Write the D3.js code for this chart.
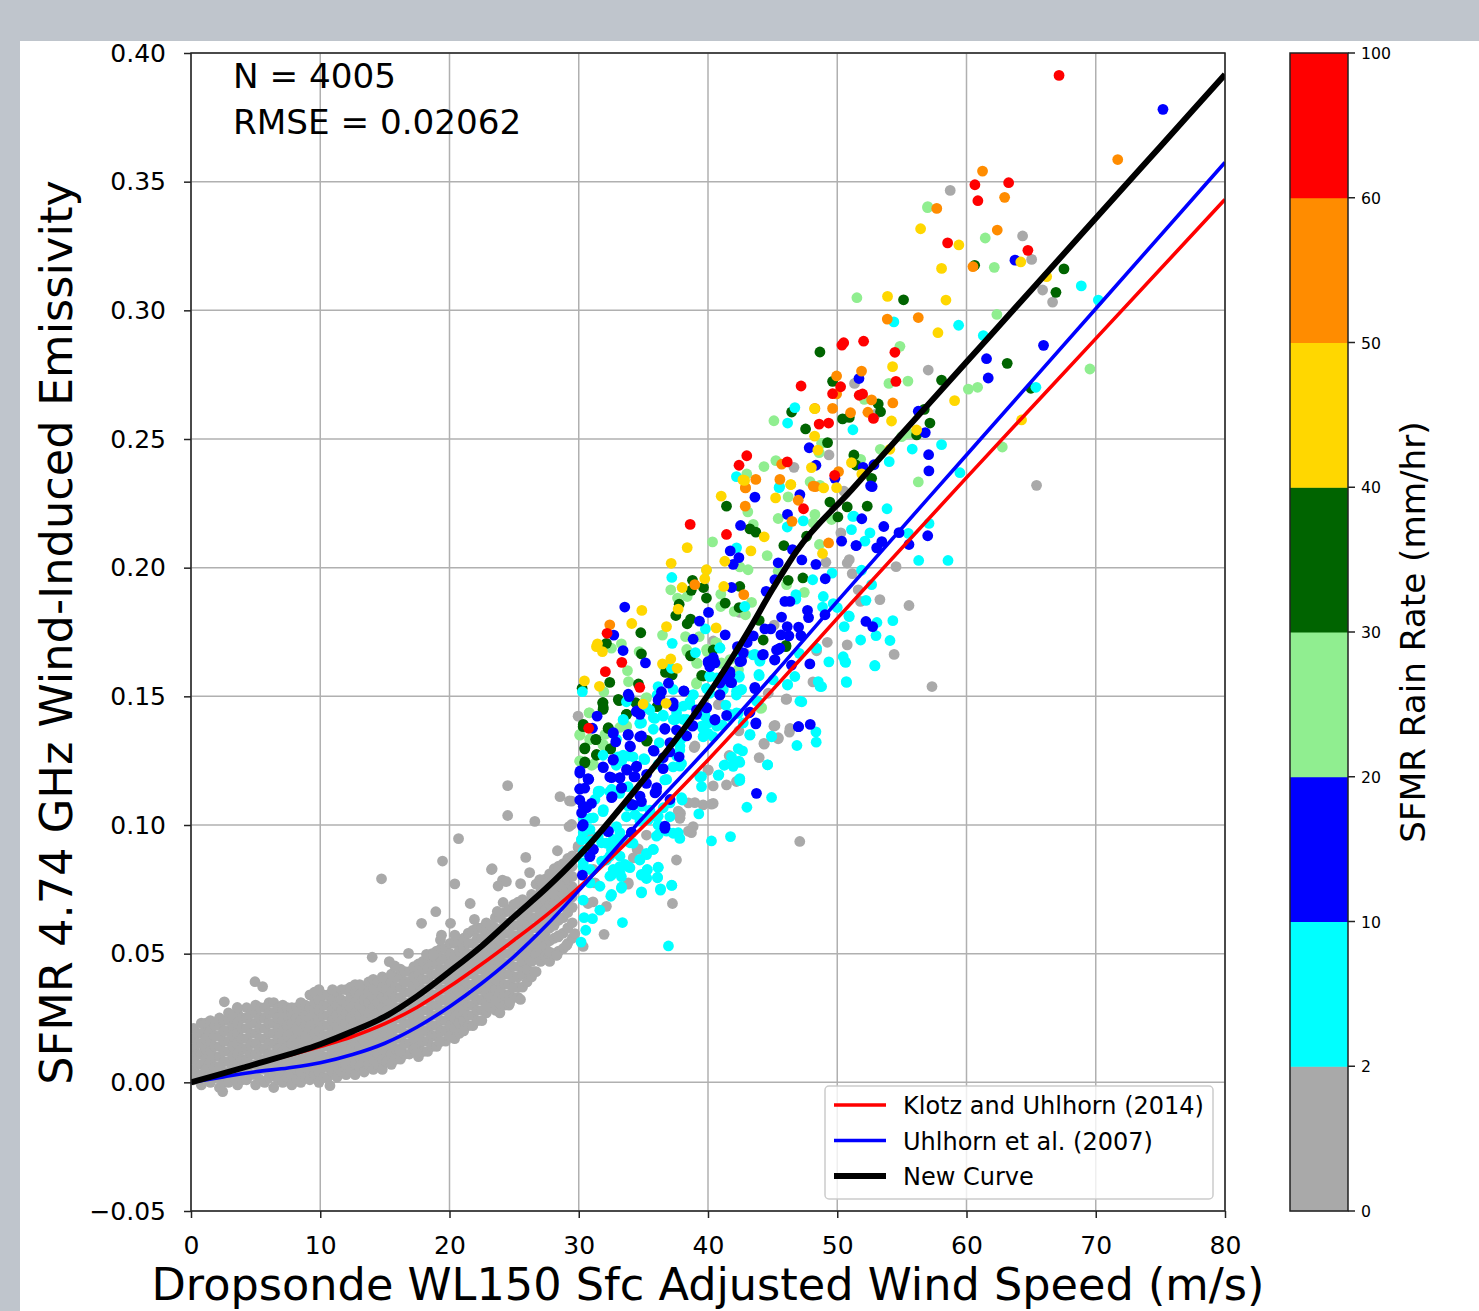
<!DOCTYPE html>
<html>
<head>
<meta charset="utf-8">
<script src="https://cdn.jsdelivr.net/npm/d3@7"></script>
<style>
  body { margin: 0; background: #fff; }
  svg { display: block; font-family: "DejaVu Sans", sans-serif; }
</style>
</head>
<body>
<svg width="1479" height="1311"></svg>
<script>
// dense gray cloud, one row per wind speed column: [x, y, y, y ...]
const grayColumns = [
  [0.2, .001, .005, .009, .013, .017, .021],
  [0.5, .003, .007, .011, .015, .019],
  [0.8, -.001, .003, .007, .011, .015, .019, .023],
  [1.15, .001, .005, .009, .013, .017, .021, .023],
  [1.5, .000, .004, .008, .012, .016, .020, .024],
  [1.85, .002, .006, .010, .014, .018, .022],
  [2.2, -.002, .002, .006, .010, .014, .018, .022, .025],
  [2.55, .000, .004, .008, .012, .016, .020, .024],
  [2.9, .000, .004, .008, .012, .016, .020, .024, .027],
  [3.25, .002, .006, .010, .014, .018, .022, .025],
  [3.6, -.001, .003, .007, .011, .015, .019, .023, .027],
  [3.95, .001, .005, .009, .013, .017, .021, .025],
  [4.3, .001, .005, .009, .013, .017, .021, .025, .029],
  [4.65, .003, .007, .011, .015, .019, .023, .027],
  [5.0, -.001, .003, .007, .011, .015, .019, .023, .027, .030],
  [5.35, .001, .005, .009, .013, .017, .021, .025, .029],
  [5.7, .000, .005, .009, .013, .017, .021, .025, .029],
  [6.05, .002, .007, .011, .015, .019, .023, .027, .031],
  [6.4, -.002, .003, .007, .011, .015, .019, .023, .027, .031],
  [6.75, .001, .005, .009, .013, .017, .021, .025, .029],
  [7.1, .000, .004, .008, .012, .016, .020, .024, .028, .030],
  [7.45, .002, .006, .010, .014, .018, .022, .026, .029],
  [7.8, -.001, .003, .007, .011, .015, .019, .023, .027, .029],
  [8.15, .001, .005, .009, .013, .017, .021, .025, .029],
  [8.5, .000, .004, .008, .012, .016, .020, .024, .028, .031],
  [8.85, .002, .006, .010, .014, .018, .022, .026, .030],
  [9.2, .001, .005, .009, .013, .017, .021, .025, .029, .034],
  [9.55, .003, .007, .011, .015, .019, .023, .027, .031, .035],
  [9.9, .000, .004, .008, .012, .016, .020, .024, .028, .032, .036],
  [10.25, .002, .006, .010, .014, .018, .022, .026, .030, .034],
  [10.6, .002, .006, .010, .014, .018, .022, .026, .030, .034],
  [10.95, .004, .008, .012, .016, .020, .024, .028, .032, .036],
  [11.3, .002, .006, .010, .014, .018, .022, .026, .030, .035],
  [11.65, .004, .008, .012, .016, .020, .024, .028, .032, .036],
  [12.0, .003, .007, .011, .015, .019, .023, .027, .031, .036],
  [12.35, .005, .009, .013, .017, .021, .025, .029, .033, .037],
  [12.7, .003, .007, .011, .015, .019, .023, .027, .031, .035, .038],
  [13.05, .006, .010, .014, .018, .022, .026, .030, .034, .038],
  [13.4, .004, .008, .012, .016, .020, .024, .028, .032, .036],
  [13.75, .007, .011, .015, .019, .023, .027, .031, .035, .039],
  [14.1, .005, .009, .013, .017, .021, .025, .029, .033, .037, .040],
  [14.45, .007, .011, .015, .019, .023, .027, .031, .035, .039],
  [14.8, .005, .009, .013, .017, .021, .025, .029, .033, .037, .041],
  [15.15, .008, .012, .016, .020, .024, .028, .032, .036, .040],
  [15.5, .007, .011, .015, .019, .023, .027, .031, .035, .039, .042],
  [15.85, .009, .013, .017, .021, .025, .029, .033, .037, .041],
  [16.2, .009, .013, .017, .021, .025, .029, .033, .037, .041, .044],
  [16.55, .011, .015, .019, .023, .027, .031, .035, .039, .043],
  [16.9, .011, .015, .019, .023, .027, .031, .035, .039, .043],
  [17.25, .013, .017, .021, .025, .029, .033, .037, .041, .045],
  [17.6, .010, .014, .018, .022, .026, .030, .034, .038, .042, .046],
  [17.95, .012, .016, .020, .024, .028, .032, .036, .040, .044, .047],
  [18.3, .012, .016, .020, .024, .028, .032, .036, .040, .044, .048],
  [18.65, .014, .018, .022, .026, .030, .034, .038, .042, .046, .050],
  [19.0, .014, .018, .022, .026, .030, .034, .038, .042, .046, .051],
  [19.35, .016, .020, .024, .028, .032, .036, .040, .044, .048, .052],
  [19.7, .016, .020, .024, .028, .032, .036, .040, .044, .048, .052],
  [20.05, .018, .022, .026, .030, .034, .038, .042, .046, .050, .054],
  [20.4, .017, .021, .025, .029, .033, .037, .041, .045, .049, .054],
  [20.75, .019, .023, .027, .031, .035, .039, .043, .047, .051, .055],
  [21.1, .020, .024, .028, .032, .036, .040, .044, .048, .052, .056],
  [21.45, .022, .026, .030, .034, .038, .042, .046, .050, .054, .058],
  [21.8, .022, .026, .030, .034, .038, .042, .046, .050, .054, .059],
  [22.15, .024, .028, .032, .036, .040, .044, .048, .052, .056, .060],
  [22.5, .024, .028, .032, .036, .040, .044, .048, .052, .056, .060],
  [22.85, .027, .031, .035, .039, .043, .047, .051, .055, .059, .062],
  [23.2, .029, .033, .037, .041, .045, .049, .053, .057, .061],
  [23.55, .028, .032, .036, .040, .044, .048, .052, .056, .060, .064],
  [23.9, .027, .031, .035, .039, .043, .047, .051, .055, .059, .064],
  [24.25, .030, .034, .038, .042, .046, .050, .054, .058, .062, .066],
  [24.6, .030, .034, .038, .042, .046, .050, .054, .058, .062, .067],
  [24.95, .033, .037, .041, .045, .049, .053, .057, .061, .065, .069],
  [25.3, .033, .037, .041, .045, .049, .053, .057, .061, .065, .070],
  [25.65, .037, .042, .047, .051, .055, .059, .063, .067, .071],
  [26.0, .039, .044, .049, .054, .058, .062, .066, .070],
  [26.35, .041, .047, .052, .056, .060, .064, .068, .073],
  [26.7, .043, .050, .055, .060, .064, .068, .072, .077],
  [27.05, .047, .052, .056, .061, .066, .070, .074, .078],
  [27.4, .049, .053, .058, .063, .067, .071, .075, .079],
  [27.75, .047, .055, .060, .065, .069, .073, .077, .081],
  [28.1, .050, .056, .061, .066, .070, .074, .078, .083],
  [28.45, .051, .057, .063, .068, .072, .076, .080, .084],
  [28.8, .052, .058, .064, .069, .073, .077, .081, .085],
  [29.15, .054, .060, .066, .071, .075, .079, .083, .087],
  [29.5, .056, .062, .068, .072, .076, .080, .084, .088]
];
const grayOutliers = [
  [14.74, .0791], [19.46, .086], [20.41, .0771], [23.25, .0827], [26.2, .0815], [24.1, .0786], [23.76, .0763],
  [24.4, .078], [26.98, .0786], [29.2, .0851], [18.94, .0663], [17.84, .0618], [20.08, .0618], [21.93, .0633],
  [19.3, .0553], [19.38, .0572], [20.41, .0572], [14.02, .0486], [15.34, .0469], [15.77, .0452], [16.83, .0501],
  [18.22, .0497], [18.74, .0495], [4.95, .0391], [5.54, .0372], [2.58, .0313], [3.58, .0291], [2.45, -.0036],
  [10.75, -.0013], [16.16, .0122], [17.32, .0128], [17.45, .0113], [19.25, .0158], [26.55, .043], [25.49, .0322],
  [24.66, .031], [27.63, .0501], [28.32, .0495], [28.4, .0566], [24.5, .1153], [24.5, .1037], [20.7, .0947],
  [23.3, .083], [25.5, .0772], [26.6, .1014], [25.9, .0874], [27, .0788], [21.6, .0695], [24.15, .0699],
  [23.7, .0664], [25.07, .0691], [28.55, .111], [29.28, .1094], [29.25, .0994], [28.35, .09], [29.05, .0851],
  [29.95, .0913], [29.95, .1423], [27.24, .0773], [28.01, .0734], [28.4, .0565], [29.69, .0578], [30.34, .0528],
  [27.75, .0506], [29.05, .0532], [28.27, .0493]
];
const grayPoints = [
  [37.56, .0864], [37.25, .0695], [33.82, .077], [34.52, .0905], [31.96, .0575], [32.14, .0684], [31.1, .0701],
  [30.72, .0695], [40.4, .1152], [41.43, .1156], [42.2, .1169], [40.01, .1214], [38.98, .1087], [39.62, .1078],
  [40.27, .1081], [40.4, .1084], [37.87, .1045], [37.82, .1026], [38.85, .0994], [38.72, .097], [36.66, .0981],
  [35.24, .0961], [30.85, .0968], [41.64, .127], [38.93, .1301], [40.01, .1213], [42.39, .1366], [40.92, .1473],
  [43.96, .1262], [44.35, .1314], [45.43, .1335], [46.3, .1361], [46.34, .1375], [45.1, .1384], [46.05, .1488],
  [44.66, .1512], [48.12, .1556], [48.4, .1677], [49.23, .171], [50.77, .17], [51.8, .1869], [51.62, .1914],
  [51.16, .1977], [50.77, .2018], [50.93, .2031], [49.12, .2021], [50.28, .2135], [50.52, .2297], [42.46, .1826],
  [45.12, .1777], [42.85, .1667], [47.1, .0936], [57.33, .1538], [54.4, .1663], [55.55, .1853], [54.55, .2004],
  [53.3, .1876], [58.74, .3466], [64.34, .3289], [65.04, .3198], [65.89, .3079], [66.66, .3032], [57.04, .2768],
  [51.34, .2716], [53, .2597], [49.36, .2438], [46.65, .239], [65.42, .232], [33.83, .0775], [29.96, .0918],
  [29.45, .1002], [29.45, .1093], [37.7, .1054], [37.83, .1028], [38.48, .0976], [36.67, .0983], [34.6, .0907],
  [34.22, .0872], [31.13, .0827], [31.25, .0775], [29.58, .075], [38.48, .1086], [46.08, .149], [45.18, .1387],
  [45.44, .1339], [44.33, .1317], [38.99, .1307], [40.8, .1468], [40.41, .1715]
];
const cyanPoints = [
  [54.38, .2955], [59.39, .2942], [61.3, .2902], [68.88, .3095], [70.2, .304], [65.37, .2701], [46.72, .2622],
  [46.16, .2562], [51.21, .2536], [55.8, .2461], [58.07, .2478], [54.02, .2412], [59.49, .2369], [42.2, .2354],
  [45.5, .2311], [45.54, .2314], [51.29, .22], [51.1, .2148], [52.53, .2135], [52.14, .2103], [46.13, .2158],
  [47.37, .2182], [42.21, .2077], [37.2, .1962], [51.88, .199], [48.1, .1953], [49.6, .1979], [52.66, .1934],
  [46.8, .1895], [46.8, .1878], [48.92, .1888], [52.22, .1873], [48.86, .1847], [49.69, .186], [50, .1845],
  [42.85, .1849], [50.93, .181], [50.54, .1771], [39.8, .1762], [51.81, .1719], [37.23, .1706], [43.5, .1661],
  [42.59, .1661], [39.03, .167], [40.92, .1687], [44.01, .1638], [47.06, .1667], [48.4, .1687], [49.35, .1634],
  [50.46, .1654], [50.65, .1632], [52.92, .1618], [50.72, .1554], [37.17, .1609], [43.96, .158], [40.14, .1577],
  [42.41, .1574], [46.72, .1577], [46.15, .1544], [45.05, .1564], [48.79, .1538], [48.53, .1557], [30.28, .1518],
  [33.69, .1479], [36.14, .1538], [37.3, .1527], [36.06, .1505], [35.5, .1447], [42.54, .1525], [42.2, .1505],
  [39.88, .1531], [40.14, .1512], [38.85, .1505], [38.59, .1479], [41.38, .1466], [47.26, .1479], [43.88, .1479],
  [36.53, .1427], [35.88, .1414], [37.43, .1408], [34.72, .1395], [33.43, .1408], [39.75, .1434], [40.01, .1408],
  [42.34, .1434], [41.69, .1421], [41.12, .1388], [39.62, .1375], [40.01, .1356], [39.62, .1343], [40.4, .1343],
  [37.95, .1336], [43.24, .1349], [44.92, .1343], [48.35, .1362], [46.88, .1309], [48.37, .1322], [37.82, .1291],
  [42.34, .1297], [42.67, .1288], [41.82, .1265], [42.39, .1248], [44.61, .1234], [41.25, .1232], [41.95, .1228],
  [37.95, .1239], [37.3, .1226], [39.37, .1187], [40.79, .1193], [42.46, .118], [33.04, .1265], [33.43, .1271],
  [34.2, .1265], [35.11, .1254], [31.88, .1271], [32.9, .1232], [31.5, .1126], [32.4, .113], [31.88, .1052],
  [30.34, .1026], [30.85, .1026], [30.21, .0942], [31.5, .0955], [32.14, .0929], [32.53, .0903], [33.17, .0942],
  [30.34, .0838], [32.14, .0864], [33.17, .0838], [33.82, .0838], [34.72, .0864], [35.24, .089], [35.75, .0905],
  [32.53, .0805], [33.3, .0799], [34.85, .0805], [35.29, .0825], [36.14, .0835], [36.09, .0795], [35.24, .0792],
  [33.3, .0754], [34.85, .0736], [36.32, .0747], [37.2, .0765], [32.48, .0723], [31.63, .0669], [30.34, .0708],
  [30.41, .064], [31.06, .0636], [30.54, .0591], [30.18, .0545], [33.38, .0621], [36.94, .053], [40.27, .0938],
  [41.74, .0955], [43.01, .1069], [44.92, .1107], [39.29, .1043], [39.5, .1149], [39.5, .1188], [38, .1097],
  [37.05, .1032], [37.82, .0948], [37.3, .0968], [36.01, .0957], [36.14, .1], [42.46, .1173], [40.84, .1195],
  [41.3, .1234], [44.61, .1234], [41.95, .1234], [42.46, .1243], [36.66, .1175], [33.82, .1149], [33.17, .1123],
  [33.69, .1032], [34.72, .1026], [35.5, .1058], [36.01, .1032], [32.92, .0994], [34.2, .0929], [52.9, .162],
  [58.57, .2028], [56.3, .2028], [54.3, .1794], [53.07, .1787], [54.08, .1717], [53, .1736], [50.9, .1813],
  [50.7, .1557], [50.6, .1635], [48.67, .1538], [51.2, .2199], [53.85, .2229], [57.1, .2172], [55.5, .2133],
  [33.45, .141], [34.86, .1397], [32.93, .1333], [33.32, .1249], [33.83, .1268], [35.04, .1258], [36.23, .132],
  [36.15, .1236], [35.25, .1456], [35.77, .1417], [36.54, .1423], [37.31, .141], [37.57, .1436], [38.09, .1462],
  [35.77, .1372], [38.09, .1359], [37.83, .1307], [37.57, .1268], [37.83, .1229], [36.8, .1177], [31.51, .1132],
  [32.54, .1139], [38.35, .141], [31.64, .1132], [32.54, .1125], [31.25, .1099], [31.9, .106], [31.13, .1028],
  [30.35, .097], [30.87, .0983], [30.22, .0944], [30.87, .0937], [31.77, .0931], [32.67, .0944], [30.35, .0898],
  [30.35, .0853], [30.87, .0827], [31.77, .086], [32.41, .0879], [33.19, .0879], [32.67, .0827], [33.57, .0847],
  [33.96, .0931], [34.74, .0866], [35.25, .0885], [35.77, .0905], [36.15, .0963], [36.8, .0976], [37.7, .097],
  [33.83, .1073], [34.35, .1041], [34.86, .1073], [34.74, .1015], [35.38, .1021], [36.15, .1034], [36.54, .1067],
  [37.06, .1086], [32.67, .0911], [33.19, .097], [32.41, .0801], [33.19, .0814], [33.96, .0834], [31.64, .0762],
  [30.87, .0775], [34.86, .0808], [35.3, .0827], [36.15, .0836], [36.1, .0797], [35.25, .0795], [33.32, .0759],
  [34.86, .074], [36.33, .0752], [37.19, .0766], [32.54, .073], [37.96, .1106], [40.15, .1579], [40.67, .1572],
  [38.86, .1507], [38.6, .1468], [41.18, .1527], [42.21, .152], [42.6, .1527], [42.42, .1579], [43.94, .1585],
  [46.16, .1546], [39.76, .1423], [39.51, .1384], [40.02, .1397], [39.64, .1345], [40.67, .1384], [41.7, .143],
  [42.21, .1436], [42.73, .1397], [43.25, .1352], [44.92, .1345], [47.11, .1481], [38.09, .141], [44.02, .1637],
  [43.63, .1663], [40.92, .1689], [43.76, .1481]
];
const bluePoints = [
  [65.96, .2864], [63.75, .3195], [61.55, .2812], [61.68, .2737], [51.68, .2735], [56.27, .2608], [56.81, .2525],
  [57.07, .2439], [57.09, .2376], [47.83, .2466], [48.35, .2398], [52, .239], [52.84, .24], [49.82, .2347],
  [52.58, .2318], [75.2, .3781], [43.63, .2274], [47.11, .2284], [46.15, .2207], [42.52, .2164], [41.72, .2065],
  [42.39, .2039], [41.95, .2013], [45.43, .2019], [46.54, .207], [47.26, .203], [48.35, .2013], [50.34, .2103],
  [51.47, .2086], [53.05, .2077], [49.07, .1957], [45.17, .1953], [41.82, .1923], [44.5, .1908], [45.95, .1869],
  [46.34, .1869], [33.56, .1847], [40.04, .1826], [47.7, .1834], [47.78, .1806], [49.05, .1817], [45.69, .1808],
  [39.34, .1792], [46.13, .1771], [47.01, .1769], [44.4, .1762], [44.86, .1762], [45.64, .1739], [46.26, .1735],
  [47.19, .1736], [52.22, .1791], [52.74, .1771], [41.33, .1739], [43.5, .1735], [38.85, .1722], [32.71, .1738],
  [42.28, .1693], [43.03, .1709], [45.3, .168], [45.56, .1687], [33.43, .1678], [44.22, .1661], [45.15, .1641],
  [47.88, .1626], [46.46, .1621], [42.46, .1635], [35.16, .163], [40.01, .1635], [40.4, .1641], [40.14, .1615],
  [41.69, .1596], [41.74, .1554], [43.63, .1535], [40.92, .1551], [40.92, .1505], [36.94, .1551], [38.13, .1521],
  [33.9, .1499], [36.4, .1518], [36.14, .1486], [37.3, .1462], [34.46, .144], [39.11, .1447], [39.88, .1456],
  [31.42, .1423], [43.19, .1436], [43.7, .1393], [38.8, .1384], [47.01, .1382], [47.91, .1391], [40.53, .1408],
  [34.72, .1343], [31.06, .1376], [32.66, .1356], [33.82, .1349], [36.66, .1375], [37.56, .1369], [32.86, .1323],
  [34, .1304], [35.83, .1287], [37.05, .1284], [37.77, .1265], [31.88, .1226], [32.66, .1252], [33.74, .1213],
  [34.46, .1226], [36.53, .1219], [30.08, .1202], [30.72, .118], [32.4, .1187], [34.28, .1187], [33.17, .1183],
  [43.75, .1123], [30.77, .1178], [30.08, .1139], [30.46, .1143], [30.08, .1097], [30.98, .1084], [30.28, .0996],
  [33.3, .1143], [32.58, .111], [34.2, .1078], [34.85, .1091], [31.11, .0905], [30.85, .0877], [32.27, .0974],
  [34.08, .097], [36.66, .0987], [30.28, .0805], [35.24, .1162], [36.01, .113], [57, .2124], [54.78, .2136],
  [55.55, .209], [53.6, .216], [51.9, .219], [51.45, .2086], [53.45, .2101], [52.7, .2315], [32.67, .1359],
  [32.67, .1255], [31.9, .1223], [30.1, .121], [30.74, .1177], [30.09, .1141], [32.54, .1184], [33.19, .1184],
  [34.35, .1188], [33.32, .1145], [34.48, .1229], [33.7, .1216], [33.96, .1307], [33.83, .1352], [34.86, .1346],
  [35.77, .129], [36.54, .1262], [36.67, .1372], [34.48, .1443], [34.74, .143], [33.83, .1508], [36.28, .1495],
  [37.31, .1475], [37.06, .132], [38.35, .1346], [36.03, .1145], [35.25, .1197], [30.35, .1002], [30.61, .1067],
  [30.22, .1047], [32.29, .0976], [34.09, .0972], [36.67, .0996], [30.87, .0879], [31.13, .0905], [30.35, .1073],
  [32.54, .1106], [34.09, .108], [34.74, .1112], [35.9, .1125], [37.06, .1099], [40.41, .165], [40.15, .1637],
  [40.02, .163], [40.54, .163], [41.44, .1598], [41.7, .1585], [41.57, .1566], [41.83, .1553], [41.18, .1579],
  [38.14, .152], [40.92, .1507], [43.63, .153], [39.89, .1455], [39.12, .143], [38.81, .1387], [40.54, .141],
  [41.44, .1426], [43.25, .1439], [43.71, .1397], [46.99, .1382], [45.18, .1643], [45.44, .1682], [44.28, .1663],
  [42.73, .1669], [42.6, .1637]
];
const lightGreenPoints = [
  [56.99, .3399], [61.45, .3281], [62.15, .3167], [51.52, .3049], [54.85, .286], [62.35, .2984], [69.55, .2772],
  [60.14, .2694], [60.86, .2701], [54, .2716], [55.47, .2725], [52.09, .2654], [45.1, .2571], [62.77, .2469],
  [54.98, .2509], [55.5, .2522], [53.33, .246], [48.79, .2483], [48.6, .2447], [51.29, .2434], [51.81, .2421],
  [45.25, .2416], [44.33, .2393], [43, .2364], [47.9, .2334], [48.66, .2318], [56.27, .2333], [57, .3403],
  [40.35, .21], [43.5, .2168], [43.08, .2217], [46.2, .2275], [48.66, .232], [45.43, .2191], [48.27, .2207],
  [48.14, .2174], [49.56, .2187], [48.62, .209], [44.58, .2047], [42.46, .2003], [43.1, .1992], [45.43, .1986],
  [39.88, .199], [37.12, .1914], [37.64, .1882], [38.39, .1888], [40.99, .1897], [40.99, .1849], [43.37, .1865],
  [47.45, .1904], [46.08, .1934], [42.03, .183], [42.9, .1817], [38.26, .1732], [39.32, .1732], [36.48, .1738],
  [40.6, .1709], [33.3, .1704], [32.53, .1687], [34.67, .1674], [38.41, .1674], [39.94, .1674], [39.16, .1628],
  [40.99, .1628], [42.34, .1602], [36.58, .1619], [33.77, .16], [33.85, .1557], [39.11, .1548], [31.94, .1518],
  [35.19, .1492], [44.09, .1453], [30.8, .1436], [30.08, .1349], [30.85, .1332], [31.88, .131], [30.08, .1248],
  [31, .1232], [33.69, .1382], [33.17, .1379], [30.82, .1436], [30.09, .1352], [30.87, .1335], [32.03, .1352],
  [31.9, .1313], [30.09, .1249], [31.13, .1236], [33.7, .1385], [35.25, .1495], [39.12, .1553], [40.67, .1708],
  [39.89, .1682], [39.12, .163], [38.35, .1682], [42.34, .1604], [41.05, .163], [44.15, .1456], [41.7, .1643]
];
const darkGreenPoints = [
  [55.13, .3041], [48.66, .2838], [49.64, .2724], [58.07, .2729], [63.15, .2794], [67.54, .3161], [66.92, .307],
  [60.63, .3175], [64.98, .2697], [46.47, .2605], [53.17, .2636], [53.35, .2606], [50.41, .2578], [50.93, .2584],
  [56.73, .2615], [57.17, .2562], [56.14, .2516], [47.55, .2539], [49.25, .2486], [51.29, .2438], [51.44, .2399],
  [52.66, .2347], [41.43, .2239], [43.7, .2138], [43.24, .2151], [45.87, .2086], [49.43, .2255], [50.77, .2236],
  [52.32, .2239], [50.05, .2197], [47.63, .2122], [47.34, .196], [46.2, .1951], [38.8, .1951], [38.7, .1912],
  [39.65, .1923], [39.88, .1882], [42.46, .1927], [37.77, .1858], [37.51, .1814], [41.33, .1862], [42.41, .1845],
  [38.65, .18], [38.39, .1782], [43.96, .1795], [34.8, .1747], [44.27, .1719], [46.03, .1693], [32.14, .1706],
  [34.85, .1665], [38.67, .1657], [40.4, .168], [39.63, .1579], [36.71, .1593], [37.23, .1583], [32.4, .1554],
  [34.62, .1548], [30.26, .1531], [33.12, .1483], [31.88, .1475], [31.88, .1449], [34.41, .1475], [36.06, .146],
  [33.69, .143], [30.34, .1382], [32.27, .1375], [31.32, .1332], [30.46, .1296], [32.45, .1296], [31.37, .1271],
  [30.46, .1241], [35.24, .1326], [31.85, .1475], [31.9, .1456], [33.06, .1488], [30.35, .1391], [31.33, .1333],
  [30.48, .13], [31.38, .1274], [32.47, .1296], [30.48, .1245], [32.29, .1378], [35.3, .1329], [33.7, .143],
  [39.51, .1581], [38.66, .1659], [46.03, .1698]
];
const goldPoints = [
  [56.45, .3317], [59.41, .3254], [58.07, .3163], [58.41, .304], [53.89, .3054], [57.79, .2913], [54.28, .2781],
  [48.25, .2618], [54.2, .257], [48.25, .2511], [59.08, .2649], [64.26, .2574], [66.2, .3131], [64.2, .3188],
  [56.14, .2535], [54.07, .246], [48.5, .2457], [51.1, .2408], [48, .2389], [51.9, .2364], [42.7, .2341],
  [46.4, .2323], [49.95, .2311], [38.39, .2078], [37.15, .2017], [41.02, .2278], [45.23, .2271], [46.41, .2323],
  [43.32, .2065], [41.3, .2025], [44.35, .212], [48.86, .2055], [48.95, .231], [39.88, .1992], [39.75, .1957],
  [38, .1923], [41.22, .1927], [37.69, .1839], [34.88, .1834], [34.1, .1783], [36.79, .1771], [40.63, .1766],
  [31.37, .1693], [31.83, .1674], [31.45, .1704], [37.12, .1645], [36.48, .1626], [37.61, .1609], [30.44, .156],
  [31.6, .1539], [36.76, .1473], [34.98, .147], [42.83, .2339]
];
const orangePoints = [
  [61.24, .3541], [62.95, .3439], [57.7, .3396], [62.38, .3312], [60.5, .317], [53.87, .2966], [56.27, .2972],
  [51.88, .2764], [49.95, .2745], [49.95, .2675], [52.66, .2652], [54.3, .264], [49.64, .2619], [51.03, .2602],
  [52.37, .2604], [48.27, .2619], [45.7, .2402], [45.56, .2343], [43.7, .2343], [42.9, .2311], [50.1, .2373],
  [48.3, .2315], [71.7, .3586], [32.4, .1778], [42.9, .231], [42.88, .2239], [46.98, .2262], [46.5, .218],
  [49.33, .2096], [42.77, .1895], [38.98, .1934], [48.14, .2317]
];
const redPoints = [
  [60.65, .3488], [63.26, .3496], [60.88, .3426], [58.54, .3262], [64.75, .3233], [52.04, .288], [50.5, .2874],
  [50.36, .2865], [54.46, .2837], [47.2, .2706], [54.54, .2724], [50.26, .2703], [49.64, .2676], [51.96, .2675],
  [51.7, .267], [52.8, .258], [48.6, .2558], [49.33, .2562], [49.8, .2359], [43, .2435], [42.4, .2398],
  [46.13, .2411], [67.16, .3913], [38.62, .2168], [41.43, .2129], [47.39, .2229], [32.19, .1745], [33.33, .1632],
  [32.06, .1596], [34.72, .1535], [30.77, .1376]
];

// fitted curves
const klotzX = [0, 5, 10, 12.5, 15, 17.5, 20, 22.5, 25, 27.5, 30, 35, 40, 45, 50, 60, 70, 80];
const klotzY = [0, .007, .0139, .0178, .0228, .0292, .0372, .046, .0553, .065, .0757, .0995, .1253, .1525, .1803, .235, .289, .3431];
const uhlhornX = [0, 2.5, 5, 7.5, 10, 12.5, 15, 17.5, 20, 22.5, 25, 27.5, 30, 35, 40, 45, 50, 60, 70, 80];
const uhlhornY = [0, .0021, .0041, .0056, .0076, .0108, .0152, .0215, .0294, .0385, .0489, .061, .0745, .103, .130, .158, .1869, .2438, .3006, .3575];
const newCurveX = [0, 5, 10, 12.5, 15, 17.5, 20, 22.5, 25, 27.5, 30, 34.98, 38.34, 41.43, 43.1, 45.05, 46.85, 51.1, 55, 60, 65, 70, 75, 80];
const newCurveY = [0, .0071, .0148, .0198, .0255, .0335, .043, .053, .0644, .0755, .0879, .1174, .1388, .1615, .1752, .1921, .2064, .2302, .252, .2799, .3078, .3358, .3637, .3916];

const rainBounds = [0, 2, 10, 20, 30, 40, 50, 60, 100];
const rainColors = ["#a9a9a9", "#00ffff", "#0000ff", "#90ee90", "#006400", "#ffd700", "#ff8c00", "#ff0000"];
const legendLabels = ["Klotz and Uhlhorn (2014)", "Uhlhorn et al. (2007)", "New Curve"];
const xTicks = [0, 10, 20, 30, 40, 50, 60, 70, 80];
const yTicks = [-0.05, 0, 0.05, 0.10, 0.15, 0.20, 0.25, 0.30, 0.35, 0.40];

const area = { left: 191, right: 1225, top: 53, bottom: 1211 };
const svg = d3.select("svg");

// the screenshot has a gray strip at the top and on the left
svg.append("rect").attr("width", 1479).attr("height", 41).attr("fill", "#bfc5cc");
svg.append("rect").attr("y", 41).attr("width", 20).attr("height", 1270).attr("fill", "#bfc5cc");

const scX = d3.scaleLinear().domain([0, 80]).range([area.left, area.right]);
const scY = d3.scaleLinear().domain([-0.05, 0.40]).range([area.bottom, area.top]);

function drawGrid() {
    const g = svg.append("g").attr("stroke", "#b0b0b0").attr("stroke-width", 1.5);
    xTicks.forEach(t => g.append("line").attr("x1", scX(t)).attr("x2", scX(t)).attr("y1", area.top).attr("y2", area.bottom));
    yTicks.forEach(t => g.append("line").attr("y1", scY(t)).attr("y2", scY(t)).attr("x1", area.left).attr("x2", area.right));
}

function drawDots(points, color, parent) {
    parent.append("g").selectAll("circle")
        .data(points)
        .enter()
        .append("circle")
        .attr("r", 5.4)
        .attr("cx", d => scX(d[0]))
        .attr("cy", d => scY(d[1]))
        .style("fill", color);
}

function drawCurve(xs, ys, color, width, parent) {
    const line = d3.line().x(d => scX(d[0])).y(d => scY(d[1])).curve(d3.curveMonotoneX);
    parent.append("path")
        .datum(xs.map((x, i) => [x, ys[i]]))
        .attr("d", line)
        .style("fill", "none")
        .style("stroke", color)
        .style("stroke-width", width)
        .style("stroke-linejoin", "round");
}

function drawAxes() {
    const axisX = d3.axisBottom(scX).tickValues(xTicks).tickFormat(d3.format("d")).tickSize(7).tickPadding(18);
    const axisY = d3.axisLeft(scY).tickValues(yTicks).tickFormat(d => d3.format(".2f")(d).replace("-", "\u2212")).tickSize(7).tickPadding(18);
    const gx = svg.append("g").attr("transform", `translate(0, ${area.bottom})`).call(axisX);
    const gy = svg.append("g").attr("transform", `translate(${area.left}, 0)`).call(axisY);
    [gx, gy].forEach(g => {
        g.select(".domain").remove();
        g.selectAll("line").attr("stroke", "#222").attr("stroke-width", 1.5);
        g.selectAll("text").attr("fill", "#000").style("font-size", "25px").style("font-family", '"DejaVu Sans"');
    });
    svg.append("rect")
        .attr("x", area.left).attr("y", area.top)
        .attr("width", area.right - area.left).attr("height", area.bottom - area.top)
        .style("fill", "none").style("stroke", "#222").style("stroke-width", 1.5);
}

function drawLegend() {
    const g = svg.append("g");
    g.append("rect")
        .attr("x", 825).attr("y", 1086).attr("width", 388).attr("height", 113).attr("rx", 4)
        .style("fill", "#fff").style("fill-opacity", 0.8).style("stroke", "#ccc").style("stroke-width", 1.5);
    const colors = ["#ff0000", "#0000ff", "#000000"];
    const widths = [3.6, 3.6, 6];
    legendLabels.forEach((label, i) => {
        const y = 1105 + i * 35.5;
        g.append("line").attr("x1", 834).attr("x2", 886).attr("y1", y).attr("y2", y)
            .style("stroke", colors[i]).style("stroke-width", widths[i]);
        g.append("text").attr("x", 903).attr("y", y + 9).style("font-size", "24px").text(label);
    });
}

function drawColorbar() {
    const bar = { left: 1290, right: 1348 };
    const scBar = d3.scaleBand().domain(rainColors).range([area.bottom, area.top]);
    const step = scBar.step();
    svg.append("g").selectAll("rect")
        .data(rainColors)
        .enter()
        .append("rect")
        .attr("x", bar.left)
        .attr("y", d => scBar(d))
        .attr("width", bar.right - bar.left)
        .attr("height", step + 0.5)
        .style("fill", d => d);
    svg.append("rect")
        .attr("x", bar.left).attr("y", area.top)
        .attr("width", bar.right - bar.left).attr("height", area.bottom - area.top)
        .style("fill", "none").style("stroke", "#222").style("stroke-width", 1.5);
    rainBounds.forEach((b, i) => {
        const y = area.bottom - i * step;
        svg.append("line").attr("x1", bar.right).attr("x2", bar.right + 7).attr("y1", y).attr("y2", y)
            .style("stroke", "#222").style("stroke-width", 1.5);
        svg.append("text").attr("x", 1361).attr("y", y + 6).style("font-size", "15.7px").text(b);
    });
}

drawGrid();

svg.append("clipPath").attr("id", "plot-clip").append("rect")
    .attr("x", area.left).attr("y", area.top)
    .attr("width", area.right - area.left).attr("height", area.bottom - area.top);
const plot = svg.append("g").attr("clip-path", "url(#plot-clip)");

const grayCloud = [];
grayColumns.forEach(col => col.slice(1).forEach(y => grayCloud.push([col[0], y])));
drawDots(grayCloud, rainColors[0], plot);
drawDots(grayOutliers, rainColors[0], plot);
drawDots(grayPoints, rainColors[0], plot);
drawDots(lightGreenPoints, rainColors[3], plot);
drawDots(darkGreenPoints, rainColors[4], plot);
drawDots(cyanPoints, rainColors[1], plot);
drawDots(bluePoints, rainColors[2], plot);
drawDots(orangePoints, rainColors[6], plot);
drawDots(goldPoints, rainColors[5], plot);
drawDots(redPoints, rainColors[7], plot);

drawCurve(klotzX, klotzY, "#ff0000", 3.6, plot);
drawCurve(uhlhornX, uhlhornY, "#0000ff", 3.6, plot);
drawCurve(newCurveX, newCurveY, "#000000", 6, plot);

drawAxes();
drawLegend();
drawColorbar();

svg.append("text").attr("x", 233).attr("y", 88).style("font-size", "34.2px").text("N = 4005");
svg.append("text").attr("x", 233).attr("y", 134).style("font-size", "34.2px").text("RMSE = 0.02062");

svg.append("text").attr("x", 708).attr("y", 1300).attr("text-anchor", "middle")
    .style("font-size", "44.6px").text("Dropsonde WL150 Sfc Adjusted Wind Speed (m/s)");
svg.append("text").attr("transform", "translate(72, 632.5) rotate(-90)").attr("text-anchor", "middle")
    .style("font-size", "44.7px").text("SFMR 4.74 GHz Wind-Induced Emissivity");
svg.append("text").attr("transform", "translate(1425, 632) rotate(-90)").attr("text-anchor", "middle")
    .style("font-size", "34.2px").text("SFMR Rain Rate (mm/hr)");
</script>
</body>
</html>
